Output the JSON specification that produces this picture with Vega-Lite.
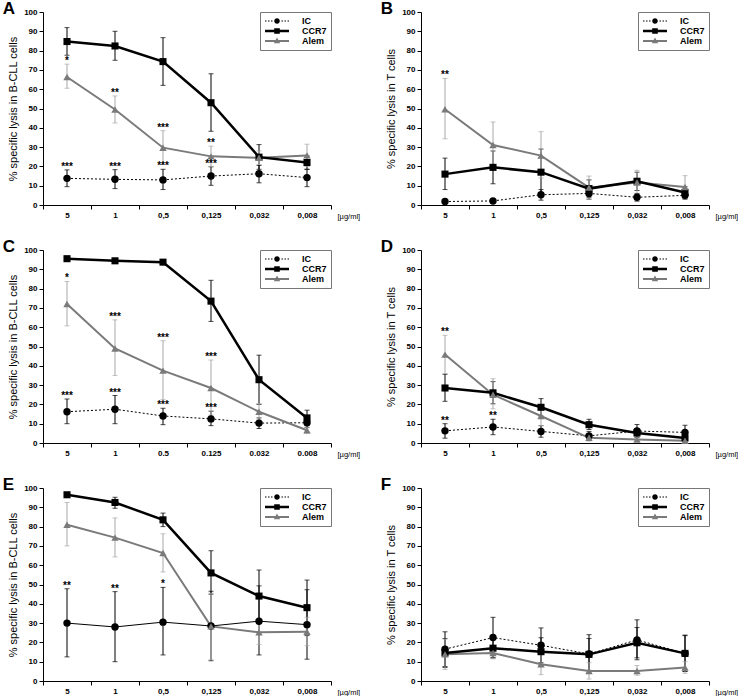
{
"$schema":"https://vega.github.io/schema/vega-lite/v6.json",
"padding":{"left":2,"top":0,"right":0,"bottom":0},
"background":"white",
"datasets":{"d":[
{"p":"A","s":"IC","dose":"5","v":13.8,"lo":9.5,"hi":18.2,"sig":"***"},
{"p":"A","s":"IC","dose":"1","v":13.3,"lo":8.5,"hi":18.3,"sig":"***"},
{"p":"A","s":"IC","dose":"0,5","v":13,"lo":8,"hi":18.5,"sig":"***"},
{"p":"A","s":"IC","dose":"0,125","v":15,"lo":10.2,"hi":19.8,"sig":"***"},
{"p":"A","s":"IC","dose":"0,032","v":16.2,"lo":11.5,"hi":20.5},
{"p":"A","s":"IC","dose":"0,008","v":14.2,"lo":9.5,"hi":18.5},
{"p":"A","s":"CCR7","dose":"5","v":84.7,"lo":77.6,"hi":91.9},
{"p":"A","s":"CCR7","dose":"1","v":82.4,"lo":75,"hi":90},
{"p":"A","s":"CCR7","dose":"0,5","v":74.3,"lo":62,"hi":86.7},
{"p":"A","s":"CCR7","dose":"0,125","v":53,"lo":38.2,"hi":68},
{"p":"A","s":"CCR7","dose":"0,032","v":24.8,"lo":18.5,"hi":31.3},
{"p":"A","s":"CCR7","dose":"0,008","v":22,"lo":18.5,"hi":25.5},
{"p":"A","s":"Alem","dose":"5","v":66.3,"lo":60.5,"hi":73,"sig":"*"},
{"p":"A","s":"Alem","dose":"1","v":49.5,"lo":42.5,"hi":56.5,"sig":"**"},
{"p":"A","s":"Alem","dose":"0,5","v":29.7,"lo":21,"hi":38.5,"sig":"***"},
{"p":"A","s":"Alem","dose":"0,125","v":25.2,"lo":20,"hi":30.5,"sig":"**"},
{"p":"A","s":"Alem","dose":"0,032","v":24.5,"lo":21,"hi":28},
{"p":"A","s":"Alem","dose":"0,008","v":25.7,"lo":20,"hi":31.5},
{"p":"B","s":"IC","dose":"5","v":1.8,"lo":1.2,"hi":2.4},
{"p":"B","s":"IC","dose":"1","v":2.1,"lo":1.5,"hi":2.7},
{"p":"B","s":"IC","dose":"0,5","v":5.3,"lo":2.5,"hi":8},
{"p":"B","s":"IC","dose":"0,125","v":6,"lo":3,"hi":9},
{"p":"B","s":"IC","dose":"0,032","v":4,"lo":2,"hi":6},
{"p":"B","s":"IC","dose":"0,008","v":5,"lo":3,"hi":7},
{"p":"B","s":"CCR7","dose":"5","v":16,"lo":8,"hi":24.3},
{"p":"B","s":"CCR7","dose":"1","v":19.5,"lo":11,"hi":28},
{"p":"B","s":"CCR7","dose":"0,5","v":17,"lo":5,"hi":29},
{"p":"B","s":"CCR7","dose":"0,125","v":8.5,"lo":4,"hi":13},
{"p":"B","s":"CCR7","dose":"0,032","v":12.3,"lo":7.5,"hi":17},
{"p":"B","s":"CCR7","dose":"0,008","v":6.5,"lo":3.5,"hi":9.5},
{"p":"B","s":"Alem","dose":"5","v":49.6,"lo":34.3,"hi":65.6,"sig":"**"},
{"p":"B","s":"Alem","dose":"1","v":31.1,"lo":19,"hi":43},
{"p":"B","s":"Alem","dose":"0,5","v":25.6,"lo":14,"hi":38},
{"p":"B","s":"Alem","dose":"0,125","v":9,"lo":3,"hi":15},
{"p":"B","s":"Alem","dose":"0,032","v":11.7,"lo":5,"hi":18},
{"p":"B","s":"Alem","dose":"0,008","v":9.3,"lo":3.5,"hi":15.2},
{"p":"C","s":"IC","dose":"5","v":16.2,"lo":10,"hi":22.8,"sig":"***"},
{"p":"C","s":"IC","dose":"1","v":17.5,"lo":10,"hi":24.6,"sig":"***"},
{"p":"C","s":"IC","dose":"0.5","v":14,"lo":9.5,"hi":18,"sig":"***"},
{"p":"C","s":"IC","dose":"0.125","v":12.5,"lo":9,"hi":16.5,"sig":"***"},
{"p":"C","s":"IC","dose":"0.032","v":10.3,"lo":7.5,"hi":13},
{"p":"C","s":"IC","dose":"0.008","v":10.5,"lo":8,"hi":13},
{"p":"C","s":"CCR7","dose":"5","v":95.5,"lo":95,"hi":96},
{"p":"C","s":"CCR7","dose":"1","v":94.4,"lo":93.6,"hi":95.2},
{"p":"C","s":"CCR7","dose":"0.5","v":93.7,"lo":93,"hi":94.4},
{"p":"C","s":"CCR7","dose":"0.125","v":73.5,"lo":63,"hi":84.3},
{"p":"C","s":"CCR7","dose":"0.032","v":32.8,"lo":20,"hi":45.5},
{"p":"C","s":"CCR7","dose":"0.008","v":13,"lo":9,"hi":17},
{"p":"C","s":"Alem","dose":"5","v":72,"lo":60.7,"hi":83.7,"sig":"*"},
{"p":"C","s":"Alem","dose":"1","v":49,"lo":35,"hi":63.8,"sig":"***"},
{"p":"C","s":"Alem","dose":"0.5","v":37.5,"lo":22.5,"hi":53,"sig":"***"},
{"p":"C","s":"Alem","dose":"0.125","v":28.5,"lo":14.5,"hi":43,"sig":"***"},
{"p":"C","s":"Alem","dose":"0.032","v":16.2,"lo":12,"hi":20.5},
{"p":"C","s":"Alem","dose":"0.008","v":6.6,"lo":5,"hi":8},
{"p":"D","s":"IC","dose":"5","v":6.3,"lo":2.5,"hi":10,"sig":"**"},
{"p":"D","s":"IC","dose":"1","v":8.3,"lo":4.3,"hi":12.3,"sig":"**"},
{"p":"D","s":"IC","dose":"0,5","v":6,"lo":3,"hi":9},
{"p":"D","s":"IC","dose":"0,125","v":3.7,"lo":1.5,"hi":6},
{"p":"D","s":"IC","dose":"0,032","v":6.2,"lo":3,"hi":9.6},
{"p":"D","s":"IC","dose":"0,008","v":5.5,"lo":2,"hi":9.2},
{"p":"D","s":"CCR7","dose":"5","v":28.5,"lo":21.6,"hi":35.6},
{"p":"D","s":"CCR7","dose":"1","v":26,"lo":20.3,"hi":31.8},
{"p":"D","s":"CCR7","dose":"0,5","v":18.5,"lo":14,"hi":23},
{"p":"D","s":"CCR7","dose":"0,125","v":9.5,"lo":7,"hi":12.3},
{"p":"D","s":"CCR7","dose":"0,032","v":5.2,"lo":3,"hi":7.5},
{"p":"D","s":"CCR7","dose":"0,008","v":2.6,"lo":1,"hi":4},
{"p":"D","s":"Alem","dose":"5","v":45.8,"lo":36,"hi":55.8,"sig":"**"},
{"p":"D","s":"Alem","dose":"1","v":25,"lo":17.7,"hi":33.3},
{"p":"D","s":"Alem","dose":"0,5","v":14,"lo":9,"hi":19},
{"p":"D","s":"Alem","dose":"0,125","v":2.7,"lo":1,"hi":5},
{"p":"D","s":"Alem","dose":"0,032","v":1.8,"lo":1,"hi":3},
{"p":"D","s":"Alem","dose":"0,008","v":1.2,"lo":0.5,"hi":2},
{"p":"E","s":"IC","dose":"5","v":30,"lo":12.5,"hi":47.8,"sig":"**"},
{"p":"E","s":"IC","dose":"1","v":28,"lo":10,"hi":46.3,"sig":"**"},
{"p":"E","s":"IC","dose":"0,5","v":30.5,"lo":13.5,"hi":48.5,"sig":"*"},
{"p":"E","s":"IC","dose":"0,125","v":28.5,"lo":10.5,"hi":46.5},
{"p":"E","s":"IC","dose":"0,032","v":31,"lo":13.5,"hi":49.3},
{"p":"E","s":"IC","dose":"0,008","v":29.2,"lo":11.3,"hi":47.3},
{"p":"E","s":"CCR7","dose":"5","v":96.5,"lo":95.5,"hi":97.5},
{"p":"E","s":"CCR7","dose":"1","v":92.5,"lo":89.5,"hi":95.2},
{"p":"E","s":"CCR7","dose":"0,5","v":83.5,"lo":80,"hi":87},
{"p":"E","s":"CCR7","dose":"0,125","v":56,"lo":45,"hi":67.5},
{"p":"E","s":"CCR7","dose":"0,032","v":44,"lo":30.5,"hi":57.5},
{"p":"E","s":"CCR7","dose":"0,008","v":38,"lo":23.5,"hi":52.3},
{"p":"E","s":"Alem","dose":"5","v":81,"lo":70,"hi":92.5},
{"p":"E","s":"Alem","dose":"1","v":74.3,"lo":64.3,"hi":84.5},
{"p":"E","s":"Alem","dose":"0,5","v":66.3,"lo":56.5,"hi":76.3},
{"p":"E","s":"Alem","dose":"0,125","v":28.3,"lo":11,"hi":45.5},
{"p":"E","s":"Alem","dose":"0,032","v":25.2,"lo":19,"hi":31.5},
{"p":"E","s":"Alem","dose":"0,008","v":25.5,"lo":18.3,"hi":33},
{"p":"F","s":"IC","dose":"5","v":16.5,"lo":7.5,"hi":25.5},
{"p":"F","s":"IC","dose":"1","v":22.5,"lo":12,"hi":33},
{"p":"F","s":"IC","dose":"0,5","v":18.5,"lo":9.5,"hi":27.5},
{"p":"F","s":"IC","dose":"0,125","v":14,"lo":4,"hi":24},
{"p":"F","s":"IC","dose":"0,032","v":21.3,"lo":11,"hi":31.7},
{"p":"F","s":"IC","dose":"0,008","v":14.3,"lo":5,"hi":23.8},
{"p":"F","s":"CCR7","dose":"5","v":14.5,"lo":7,"hi":22},
{"p":"F","s":"CCR7","dose":"1","v":17,"lo":12,"hi":22},
{"p":"F","s":"CCR7","dose":"0,5","v":15.2,"lo":8,"hi":22.4},
{"p":"F","s":"CCR7","dose":"0,125","v":13.8,"lo":5.5,"hi":22},
{"p":"F","s":"CCR7","dose":"0,032","v":19.8,"lo":12,"hi":27.7},
{"p":"F","s":"CCR7","dose":"0,008","v":14.3,"lo":5,"hi":23.5},
{"p":"F","s":"Alem","dose":"5","v":13.8,"lo":6,"hi":21.7},
{"p":"F","s":"Alem","dose":"1","v":14.5,"lo":11.5,"hi":17.5},
{"p":"F","s":"Alem","dose":"0,5","v":8.7,"lo":3.3,"hi":14},
{"p":"F","s":"Alem","dose":"0,125","v":5.2,"lo":1,"hi":9.5},
{"p":"F","s":"Alem","dose":"0,032","v":5.2,"lo":3,"hi":8},
{"p":"F","s":"Alem","dose":"0,008","v":7,"lo":4,"hi":10}
]},
"data":{"name":"d"},
"config":{
 "font":"Liberation Sans",
 "view":{"stroke":null},
 "axis":{"domainColor":"black","tickColor":"black","labelColor":"black","titleColor":"black","labelFontSize":8,"labelFontWeight":"bold","titleFontSize":11,"titleFontWeight":"normal","tickSize":4,"grid":false,"labelPadding":2,"domainWidth":1,"tickWidth":1},
 "axisY":{"titlePadding":5,"labelOverlap":false,"tickCount":10},
 "axisX":{"labelAngle":0,"tickBand":"extent","titleX":294,"titleY":11,"titleAlign":"left","titleBaseline":"middle","titleAngle":0,"titleFontSize":7.5,"titleFontWeight":"normal"},
 "title":{"anchor":"start","frame":"bounds","fontSize":17,"fontWeight":"bold","offset":-10,"dx":-5,"color":"black"},
 "legend":{"orient":"top-right","offset":0,"strokeColor":"#777","fillColor":"white","padding":4,"labelFontSize":9,"labelFontWeight":"bold","labelColor":"black","rowPadding":0,"symbolSize":64,"symbolOffset":8,"labelOffset":20}
},
"columns":2,
"spacing":{"row":18,"column":20},
"resolve":{"scale":{"shape":"independent","color":"independent"},"legend":{"shape":"independent","color":"independent"}},
"concat":[
{"width":288,"height":193,"title":"A","transform":[{"filter":"datum.p==='A'"}],
 "encoding":{"x":{"field":"dose","type":"ordinal","sort":null,"scale":{"type":"band","paddingInner":0,"paddingOuter":0},"title":"[µg/ml]"},"y":{"field":"v","type":"quantitative","scale":{"domain":[0,100],"nice":false},"title":"% specific lysis in B-CLL cells"}},
 "layer":[
  {"transform":[{"filter":"datum.s==='IC'"}],"mark":{"type":"errorbar","ticks":{"size":5},"color":"black"},"encoding":{"y":{"field":"lo","type":"quantitative","title":"% specific lysis in B-CLL cells"},"y2":{"field":"hi"}}},
  {"transform":[{"filter":"datum.s==='CCR7'"}],"mark":{"type":"errorbar","ticks":{"size":5},"color":"black"},"encoding":{"y":{"field":"lo","type":"quantitative","title":"% specific lysis in B-CLL cells"},"y2":{"field":"hi"}}},
  {"transform":[{"filter":"datum.s==='Alem'"}],"mark":{"type":"errorbar","ticks":{"size":5},"color":"#a8a8a8"},"encoding":{"y":{"field":"lo","type":"quantitative","title":"% specific lysis in B-CLL cells"},"y2":{"field":"hi"}}},
  {"transform":[{"filter":"datum.s==='IC'"}],"mark":{"type":"line","color":"black","strokeWidth":1,"strokeDash":[2,2]}},
  {"transform":[{"filter":"datum.s==='Alem'"}],"mark":{"type":"line","color":"#7a7a7a","strokeWidth":2}},
  {"transform":[{"filter":"datum.s==='CCR7'"}],"mark":{"type":"line","color":"black","strokeWidth":2.5}},
  {"transform":[{"filter":"datum.s==='IC'"}],"mark":{"type":"point","shape":"circle","filled":true,"opacity":1,"size":55,"color":"black"}},
  {"transform":[{"filter":"datum.s==='CCR7'"}],"mark":{"type":"point","shape":"square","filled":true,"opacity":1,"size":50,"color":"black"}},
  {"transform":[{"filter":"datum.s==='Alem'"}],"mark":{"type":"point","shape":"triangle-up","filled":true,"opacity":1,"size":55,"color":"#7a7a7a"}},
  {"transform":[{"filter":"datum.sig"}],"mark":{"type":"text","baseline":"middle","dy":-3,"fontSize":10,"fontWeight":"bold","color":"black"},"encoding":{"y":{"field":"hi","type":"quantitative","title":"% specific lysis in B-CLL cells"},"text":{"field":"sig"}}},
  {"mark":{"type":"point","filled":true,"size":0,"opacity":1},"encoding":{"color":{"field":"s","type":"nominal","scale":{"domain":["IC","CCR7","Alem"],"range":["black","black","#7a7a7a"]},"legend":{"title":null}},"shape":{"field":"s","type":"nominal","scale":{"domain":["IC","CCR7","Alem"],"range":["M-3,-0.125h0.375v0.25h-0.375Z M-2.25,-0.125h0.375v0.25h-0.375Z M-1.5,-0.125h0.375v0.25h-0.375Z M1.125,-0.125h0.375v0.25h-0.375Z M1.875,-0.125h0.375v0.25h-0.375Z M2.625,-0.125h0.375v0.25h-0.375Z M-0.7,0A0.7,0.7 0 1,1 0.7,0A0.7,0.7 0 1,1 -0.7,0Z","M-3,-0.3125H3V0.3125H-3Z M-0.7,-0.7H0.7V0.7H-0.7Z","M-3,-0.25H3V0.25H-3Z M0,-0.85L0.8,0.55L-0.8,0.55Z"]},"legend":{"title":null,"encode":{"symbols":{"update":{"stroke":{"value":"transparent"},"strokeWidth":{"value":0},"opacity":{"value":1},"size":{"value":64}}}}}}}}
 ]},
{"width":288,"height":193,"title":"B","transform":[{"filter":"datum.p==='B'"}],
 "encoding":{"x":{"field":"dose","type":"ordinal","sort":null,"scale":{"type":"band","paddingInner":0,"paddingOuter":0},"title":"[µg/ml]"},"y":{"field":"v","type":"quantitative","scale":{"domain":[0,100],"nice":false},"title":"% specific lysis in T cells"}},
 "layer":[
  {"transform":[{"filter":"datum.s==='IC'"}],"mark":{"type":"errorbar","ticks":{"size":5},"color":"black"},"encoding":{"y":{"field":"lo","type":"quantitative","title":"% specific lysis in T cells"},"y2":{"field":"hi"}}},
  {"transform":[{"filter":"datum.s==='CCR7'"}],"mark":{"type":"errorbar","ticks":{"size":5},"color":"black"},"encoding":{"y":{"field":"lo","type":"quantitative","title":"% specific lysis in T cells"},"y2":{"field":"hi"}}},
  {"transform":[{"filter":"datum.s==='Alem'"}],"mark":{"type":"errorbar","ticks":{"size":5},"color":"#a8a8a8"},"encoding":{"y":{"field":"lo","type":"quantitative","title":"% specific lysis in T cells"},"y2":{"field":"hi"}}},
  {"transform":[{"filter":"datum.s==='IC'"}],"mark":{"type":"line","color":"black","strokeWidth":1,"strokeDash":[2,2]}},
  {"transform":[{"filter":"datum.s==='Alem'"}],"mark":{"type":"line","color":"#7a7a7a","strokeWidth":2}},
  {"transform":[{"filter":"datum.s==='CCR7'"}],"mark":{"type":"line","color":"black","strokeWidth":2.5}},
  {"transform":[{"filter":"datum.s==='IC'"}],"mark":{"type":"point","shape":"circle","filled":true,"opacity":1,"size":55,"color":"black"}},
  {"transform":[{"filter":"datum.s==='CCR7'"}],"mark":{"type":"point","shape":"square","filled":true,"opacity":1,"size":50,"color":"black"}},
  {"transform":[{"filter":"datum.s==='Alem'"}],"mark":{"type":"point","shape":"triangle-up","filled":true,"opacity":1,"size":55,"color":"#7a7a7a"}},
  {"transform":[{"filter":"datum.sig"}],"mark":{"type":"text","baseline":"middle","dy":-3,"fontSize":10,"fontWeight":"bold","color":"black"},"encoding":{"y":{"field":"hi","type":"quantitative","title":"% specific lysis in T cells"},"text":{"field":"sig"}}},
  {"mark":{"type":"point","filled":true,"size":0,"opacity":1},"encoding":{"color":{"field":"s","type":"nominal","scale":{"domain":["IC","CCR7","Alem"],"range":["black","black","#7a7a7a"]},"legend":{"title":null}},"shape":{"field":"s","type":"nominal","scale":{"domain":["IC","CCR7","Alem"],"range":["M-3,-0.125h0.375v0.25h-0.375Z M-2.25,-0.125h0.375v0.25h-0.375Z M-1.5,-0.125h0.375v0.25h-0.375Z M1.125,-0.125h0.375v0.25h-0.375Z M1.875,-0.125h0.375v0.25h-0.375Z M2.625,-0.125h0.375v0.25h-0.375Z M-0.7,0A0.7,0.7 0 1,1 0.7,0A0.7,0.7 0 1,1 -0.7,0Z","M-3,-0.3125H3V0.3125H-3Z M-0.7,-0.7H0.7V0.7H-0.7Z","M-3,-0.25H3V0.25H-3Z M0,-0.85L0.8,0.55L-0.8,0.55Z"]},"legend":{"title":null,"encode":{"symbols":{"update":{"stroke":{"value":"transparent"},"strokeWidth":{"value":0},"opacity":{"value":1},"size":{"value":64}}}}}}}}
 ]},
{"width":288,"height":193,"title":"C","transform":[{"filter":"datum.p==='C'"}],
 "encoding":{"x":{"field":"dose","type":"ordinal","sort":null,"scale":{"type":"band","paddingInner":0,"paddingOuter":0},"title":"[µg/ml]"},"y":{"field":"v","type":"quantitative","scale":{"domain":[0,100],"nice":false},"title":"% specific lysis in B-CLL cells"}},
 "layer":[
  {"transform":[{"filter":"datum.s==='IC'"}],"mark":{"type":"errorbar","ticks":{"size":5},"color":"black"},"encoding":{"y":{"field":"lo","type":"quantitative","title":"% specific lysis in B-CLL cells"},"y2":{"field":"hi"}}},
  {"transform":[{"filter":"datum.s==='CCR7'"}],"mark":{"type":"errorbar","ticks":{"size":5},"color":"black"},"encoding":{"y":{"field":"lo","type":"quantitative","title":"% specific lysis in B-CLL cells"},"y2":{"field":"hi"}}},
  {"transform":[{"filter":"datum.s==='Alem'"}],"mark":{"type":"errorbar","ticks":{"size":5},"color":"#a8a8a8"},"encoding":{"y":{"field":"lo","type":"quantitative","title":"% specific lysis in B-CLL cells"},"y2":{"field":"hi"}}},
  {"transform":[{"filter":"datum.s==='IC'"}],"mark":{"type":"line","color":"black","strokeWidth":1,"strokeDash":[2,2]}},
  {"transform":[{"filter":"datum.s==='Alem'"}],"mark":{"type":"line","color":"#7a7a7a","strokeWidth":2}},
  {"transform":[{"filter":"datum.s==='CCR7'"}],"mark":{"type":"line","color":"black","strokeWidth":2.5}},
  {"transform":[{"filter":"datum.s==='IC'"}],"mark":{"type":"point","shape":"circle","filled":true,"opacity":1,"size":55,"color":"black"}},
  {"transform":[{"filter":"datum.s==='CCR7'"}],"mark":{"type":"point","shape":"square","filled":true,"opacity":1,"size":50,"color":"black"}},
  {"transform":[{"filter":"datum.s==='Alem'"}],"mark":{"type":"point","shape":"triangle-up","filled":true,"opacity":1,"size":55,"color":"#7a7a7a"}},
  {"transform":[{"filter":"datum.sig"}],"mark":{"type":"text","baseline":"middle","dy":-3,"fontSize":10,"fontWeight":"bold","color":"black"},"encoding":{"y":{"field":"hi","type":"quantitative","title":"% specific lysis in B-CLL cells"},"text":{"field":"sig"}}},
  {"mark":{"type":"point","filled":true,"size":0,"opacity":1},"encoding":{"color":{"field":"s","type":"nominal","scale":{"domain":["IC","CCR7","Alem"],"range":["black","black","#7a7a7a"]},"legend":{"title":null}},"shape":{"field":"s","type":"nominal","scale":{"domain":["IC","CCR7","Alem"],"range":["M-3,-0.125h0.375v0.25h-0.375Z M-2.25,-0.125h0.375v0.25h-0.375Z M-1.5,-0.125h0.375v0.25h-0.375Z M1.125,-0.125h0.375v0.25h-0.375Z M1.875,-0.125h0.375v0.25h-0.375Z M2.625,-0.125h0.375v0.25h-0.375Z M-0.7,0A0.7,0.7 0 1,1 0.7,0A0.7,0.7 0 1,1 -0.7,0Z","M-3,-0.3125H3V0.3125H-3Z M-0.7,-0.7H0.7V0.7H-0.7Z","M-3,-0.25H3V0.25H-3Z M0,-0.85L0.8,0.55L-0.8,0.55Z"]},"legend":{"title":null,"encode":{"symbols":{"update":{"stroke":{"value":"transparent"},"strokeWidth":{"value":0},"opacity":{"value":1},"size":{"value":64}}}}}}}}
 ]},
{"width":288,"height":193,"title":"D","transform":[{"filter":"datum.p==='D'"}],
 "encoding":{"x":{"field":"dose","type":"ordinal","sort":null,"scale":{"type":"band","paddingInner":0,"paddingOuter":0},"title":"[µg/ml]"},"y":{"field":"v","type":"quantitative","scale":{"domain":[0,100],"nice":false},"title":"% specific lysis in T cells"}},
 "layer":[
  {"transform":[{"filter":"datum.s==='IC'"}],"mark":{"type":"errorbar","ticks":{"size":5},"color":"black"},"encoding":{"y":{"field":"lo","type":"quantitative","title":"% specific lysis in T cells"},"y2":{"field":"hi"}}},
  {"transform":[{"filter":"datum.s==='CCR7'"}],"mark":{"type":"errorbar","ticks":{"size":5},"color":"black"},"encoding":{"y":{"field":"lo","type":"quantitative","title":"% specific lysis in T cells"},"y2":{"field":"hi"}}},
  {"transform":[{"filter":"datum.s==='Alem'"}],"mark":{"type":"errorbar","ticks":{"size":5},"color":"#a8a8a8"},"encoding":{"y":{"field":"lo","type":"quantitative","title":"% specific lysis in T cells"},"y2":{"field":"hi"}}},
  {"transform":[{"filter":"datum.s==='IC'"}],"mark":{"type":"line","color":"black","strokeWidth":1,"strokeDash":[2,2]}},
  {"transform":[{"filter":"datum.s==='Alem'"}],"mark":{"type":"line","color":"#7a7a7a","strokeWidth":2}},
  {"transform":[{"filter":"datum.s==='CCR7'"}],"mark":{"type":"line","color":"black","strokeWidth":2.5}},
  {"transform":[{"filter":"datum.s==='IC'"}],"mark":{"type":"point","shape":"circle","filled":true,"opacity":1,"size":55,"color":"black"}},
  {"transform":[{"filter":"datum.s==='CCR7'"}],"mark":{"type":"point","shape":"square","filled":true,"opacity":1,"size":50,"color":"black"}},
  {"transform":[{"filter":"datum.s==='Alem'"}],"mark":{"type":"point","shape":"triangle-up","filled":true,"opacity":1,"size":55,"color":"#7a7a7a"}},
  {"transform":[{"filter":"datum.sig"}],"mark":{"type":"text","baseline":"middle","dy":-3,"fontSize":10,"fontWeight":"bold","color":"black"},"encoding":{"y":{"field":"hi","type":"quantitative","title":"% specific lysis in T cells"},"text":{"field":"sig"}}},
  {"mark":{"type":"point","filled":true,"size":0,"opacity":1},"encoding":{"color":{"field":"s","type":"nominal","scale":{"domain":["IC","CCR7","Alem"],"range":["black","black","#7a7a7a"]},"legend":{"title":null}},"shape":{"field":"s","type":"nominal","scale":{"domain":["IC","CCR7","Alem"],"range":["M-3,-0.125h0.375v0.25h-0.375Z M-2.25,-0.125h0.375v0.25h-0.375Z M-1.5,-0.125h0.375v0.25h-0.375Z M1.125,-0.125h0.375v0.25h-0.375Z M1.875,-0.125h0.375v0.25h-0.375Z M2.625,-0.125h0.375v0.25h-0.375Z M-0.7,0A0.7,0.7 0 1,1 0.7,0A0.7,0.7 0 1,1 -0.7,0Z","M-3,-0.3125H3V0.3125H-3Z M-0.7,-0.7H0.7V0.7H-0.7Z","M-3,-0.25H3V0.25H-3Z M0,-0.85L0.8,0.55L-0.8,0.55Z"]},"legend":{"title":null,"encode":{"symbols":{"update":{"stroke":{"value":"transparent"},"strokeWidth":{"value":0},"opacity":{"value":1},"size":{"value":64}}}}}}}}
 ]},
{"width":288,"height":193,"title":"E","transform":[{"filter":"datum.p==='E'"}],
 "encoding":{"x":{"field":"dose","type":"ordinal","sort":null,"scale":{"type":"band","paddingInner":0,"paddingOuter":0},"title":"[µg/ml]"},"y":{"field":"v","type":"quantitative","scale":{"domain":[0,100],"nice":false},"title":"% specific lysis in B-CLL cells"}},
 "layer":[
  {"transform":[{"filter":"datum.s==='IC'"}],"mark":{"type":"errorbar","ticks":{"size":5},"color":"black"},"encoding":{"y":{"field":"lo","type":"quantitative","title":"% specific lysis in B-CLL cells"},"y2":{"field":"hi"}}},
  {"transform":[{"filter":"datum.s==='CCR7'"}],"mark":{"type":"errorbar","ticks":{"size":5},"color":"black"},"encoding":{"y":{"field":"lo","type":"quantitative","title":"% specific lysis in B-CLL cells"},"y2":{"field":"hi"}}},
  {"transform":[{"filter":"datum.s==='Alem'"}],"mark":{"type":"errorbar","ticks":{"size":5},"color":"#a8a8a8"},"encoding":{"y":{"field":"lo","type":"quantitative","title":"% specific lysis in B-CLL cells"},"y2":{"field":"hi"}}},
  {"transform":[{"filter":"datum.s==='IC'"}],"mark":{"type":"line","color":"black","strokeWidth":1}},
  {"transform":[{"filter":"datum.s==='Alem'"}],"mark":{"type":"line","color":"#7a7a7a","strokeWidth":2}},
  {"transform":[{"filter":"datum.s==='CCR7'"}],"mark":{"type":"line","color":"black","strokeWidth":2.5}},
  {"transform":[{"filter":"datum.s==='IC'"}],"mark":{"type":"point","shape":"circle","filled":true,"opacity":1,"size":55,"color":"black"}},
  {"transform":[{"filter":"datum.s==='CCR7'"}],"mark":{"type":"point","shape":"square","filled":true,"opacity":1,"size":50,"color":"black"}},
  {"transform":[{"filter":"datum.s==='Alem'"}],"mark":{"type":"point","shape":"triangle-up","filled":true,"opacity":1,"size":55,"color":"#7a7a7a"}},
  {"transform":[{"filter":"datum.sig"}],"mark":{"type":"text","baseline":"middle","dy":-3,"fontSize":10,"fontWeight":"bold","color":"black"},"encoding":{"y":{"field":"hi","type":"quantitative","title":"% specific lysis in B-CLL cells"},"text":{"field":"sig"}}},
  {"mark":{"type":"point","filled":true,"size":0,"opacity":1},"encoding":{"color":{"field":"s","type":"nominal","scale":{"domain":["IC","CCR7","Alem"],"range":["black","black","#7a7a7a"]},"legend":{"title":null}},"shape":{"field":"s","type":"nominal","scale":{"domain":["IC","CCR7","Alem"],"range":["M-3,-0.125h0.375v0.25h-0.375Z M-2.25,-0.125h0.375v0.25h-0.375Z M-1.5,-0.125h0.375v0.25h-0.375Z M1.125,-0.125h0.375v0.25h-0.375Z M1.875,-0.125h0.375v0.25h-0.375Z M2.625,-0.125h0.375v0.25h-0.375Z M-0.7,0A0.7,0.7 0 1,1 0.7,0A0.7,0.7 0 1,1 -0.7,0Z","M-3,-0.3125H3V0.3125H-3Z M-0.7,-0.7H0.7V0.7H-0.7Z","M-3,-0.25H3V0.25H-3Z M0,-0.85L0.8,0.55L-0.8,0.55Z"]},"legend":{"title":null,"encode":{"symbols":{"update":{"stroke":{"value":"transparent"},"strokeWidth":{"value":0},"opacity":{"value":1},"size":{"value":64}}}}}}}}
 ]},
{"width":288,"height":193,"title":"F","transform":[{"filter":"datum.p==='F'"}],
 "encoding":{"x":{"field":"dose","type":"ordinal","sort":null,"scale":{"type":"band","paddingInner":0,"paddingOuter":0},"title":"[µg/ml]"},"y":{"field":"v","type":"quantitative","scale":{"domain":[0,100],"nice":false},"title":"% specific lysis in T cells"}},
 "layer":[
  {"transform":[{"filter":"datum.s==='IC'"}],"mark":{"type":"errorbar","ticks":{"size":5},"color":"black"},"encoding":{"y":{"field":"lo","type":"quantitative","title":"% specific lysis in T cells"},"y2":{"field":"hi"}}},
  {"transform":[{"filter":"datum.s==='CCR7'"}],"mark":{"type":"errorbar","ticks":{"size":5},"color":"black"},"encoding":{"y":{"field":"lo","type":"quantitative","title":"% specific lysis in T cells"},"y2":{"field":"hi"}}},
  {"transform":[{"filter":"datum.s==='Alem'"}],"mark":{"type":"errorbar","ticks":{"size":5},"color":"#a8a8a8"},"encoding":{"y":{"field":"lo","type":"quantitative","title":"% specific lysis in T cells"},"y2":{"field":"hi"}}},
  {"transform":[{"filter":"datum.s==='IC'"}],"mark":{"type":"line","color":"black","strokeWidth":1,"strokeDash":[2,2]}},
  {"transform":[{"filter":"datum.s==='Alem'"}],"mark":{"type":"line","color":"#7a7a7a","strokeWidth":2}},
  {"transform":[{"filter":"datum.s==='CCR7'"}],"mark":{"type":"line","color":"black","strokeWidth":2.5}},
  {"transform":[{"filter":"datum.s==='IC'"}],"mark":{"type":"point","shape":"circle","filled":true,"opacity":1,"size":55,"color":"black"}},
  {"transform":[{"filter":"datum.s==='CCR7'"}],"mark":{"type":"point","shape":"square","filled":true,"opacity":1,"size":50,"color":"black"}},
  {"transform":[{"filter":"datum.s==='Alem'"}],"mark":{"type":"point","shape":"triangle-up","filled":true,"opacity":1,"size":55,"color":"#7a7a7a"}},
  {"transform":[{"filter":"datum.sig"}],"mark":{"type":"text","baseline":"middle","dy":-3,"fontSize":10,"fontWeight":"bold","color":"black"},"encoding":{"y":{"field":"hi","type":"quantitative","title":"% specific lysis in T cells"},"text":{"field":"sig"}}},
  {"mark":{"type":"point","filled":true,"size":0,"opacity":1},"encoding":{"color":{"field":"s","type":"nominal","scale":{"domain":["IC","CCR7","Alem"],"range":["black","black","#7a7a7a"]},"legend":{"title":null}},"shape":{"field":"s","type":"nominal","scale":{"domain":["IC","CCR7","Alem"],"range":["M-3,-0.125h0.375v0.25h-0.375Z M-2.25,-0.125h0.375v0.25h-0.375Z M-1.5,-0.125h0.375v0.25h-0.375Z M1.125,-0.125h0.375v0.25h-0.375Z M1.875,-0.125h0.375v0.25h-0.375Z M2.625,-0.125h0.375v0.25h-0.375Z M-0.7,0A0.7,0.7 0 1,1 0.7,0A0.7,0.7 0 1,1 -0.7,0Z","M-3,-0.3125H3V0.3125H-3Z M-0.7,-0.7H0.7V0.7H-0.7Z","M-3,-0.25H3V0.25H-3Z M0,-0.85L0.8,0.55L-0.8,0.55Z"]},"legend":{"title":null,"encode":{"symbols":{"update":{"stroke":{"value":"transparent"},"strokeWidth":{"value":0},"opacity":{"value":1},"size":{"value":64}}}}}}}}
 ]}
]
}
